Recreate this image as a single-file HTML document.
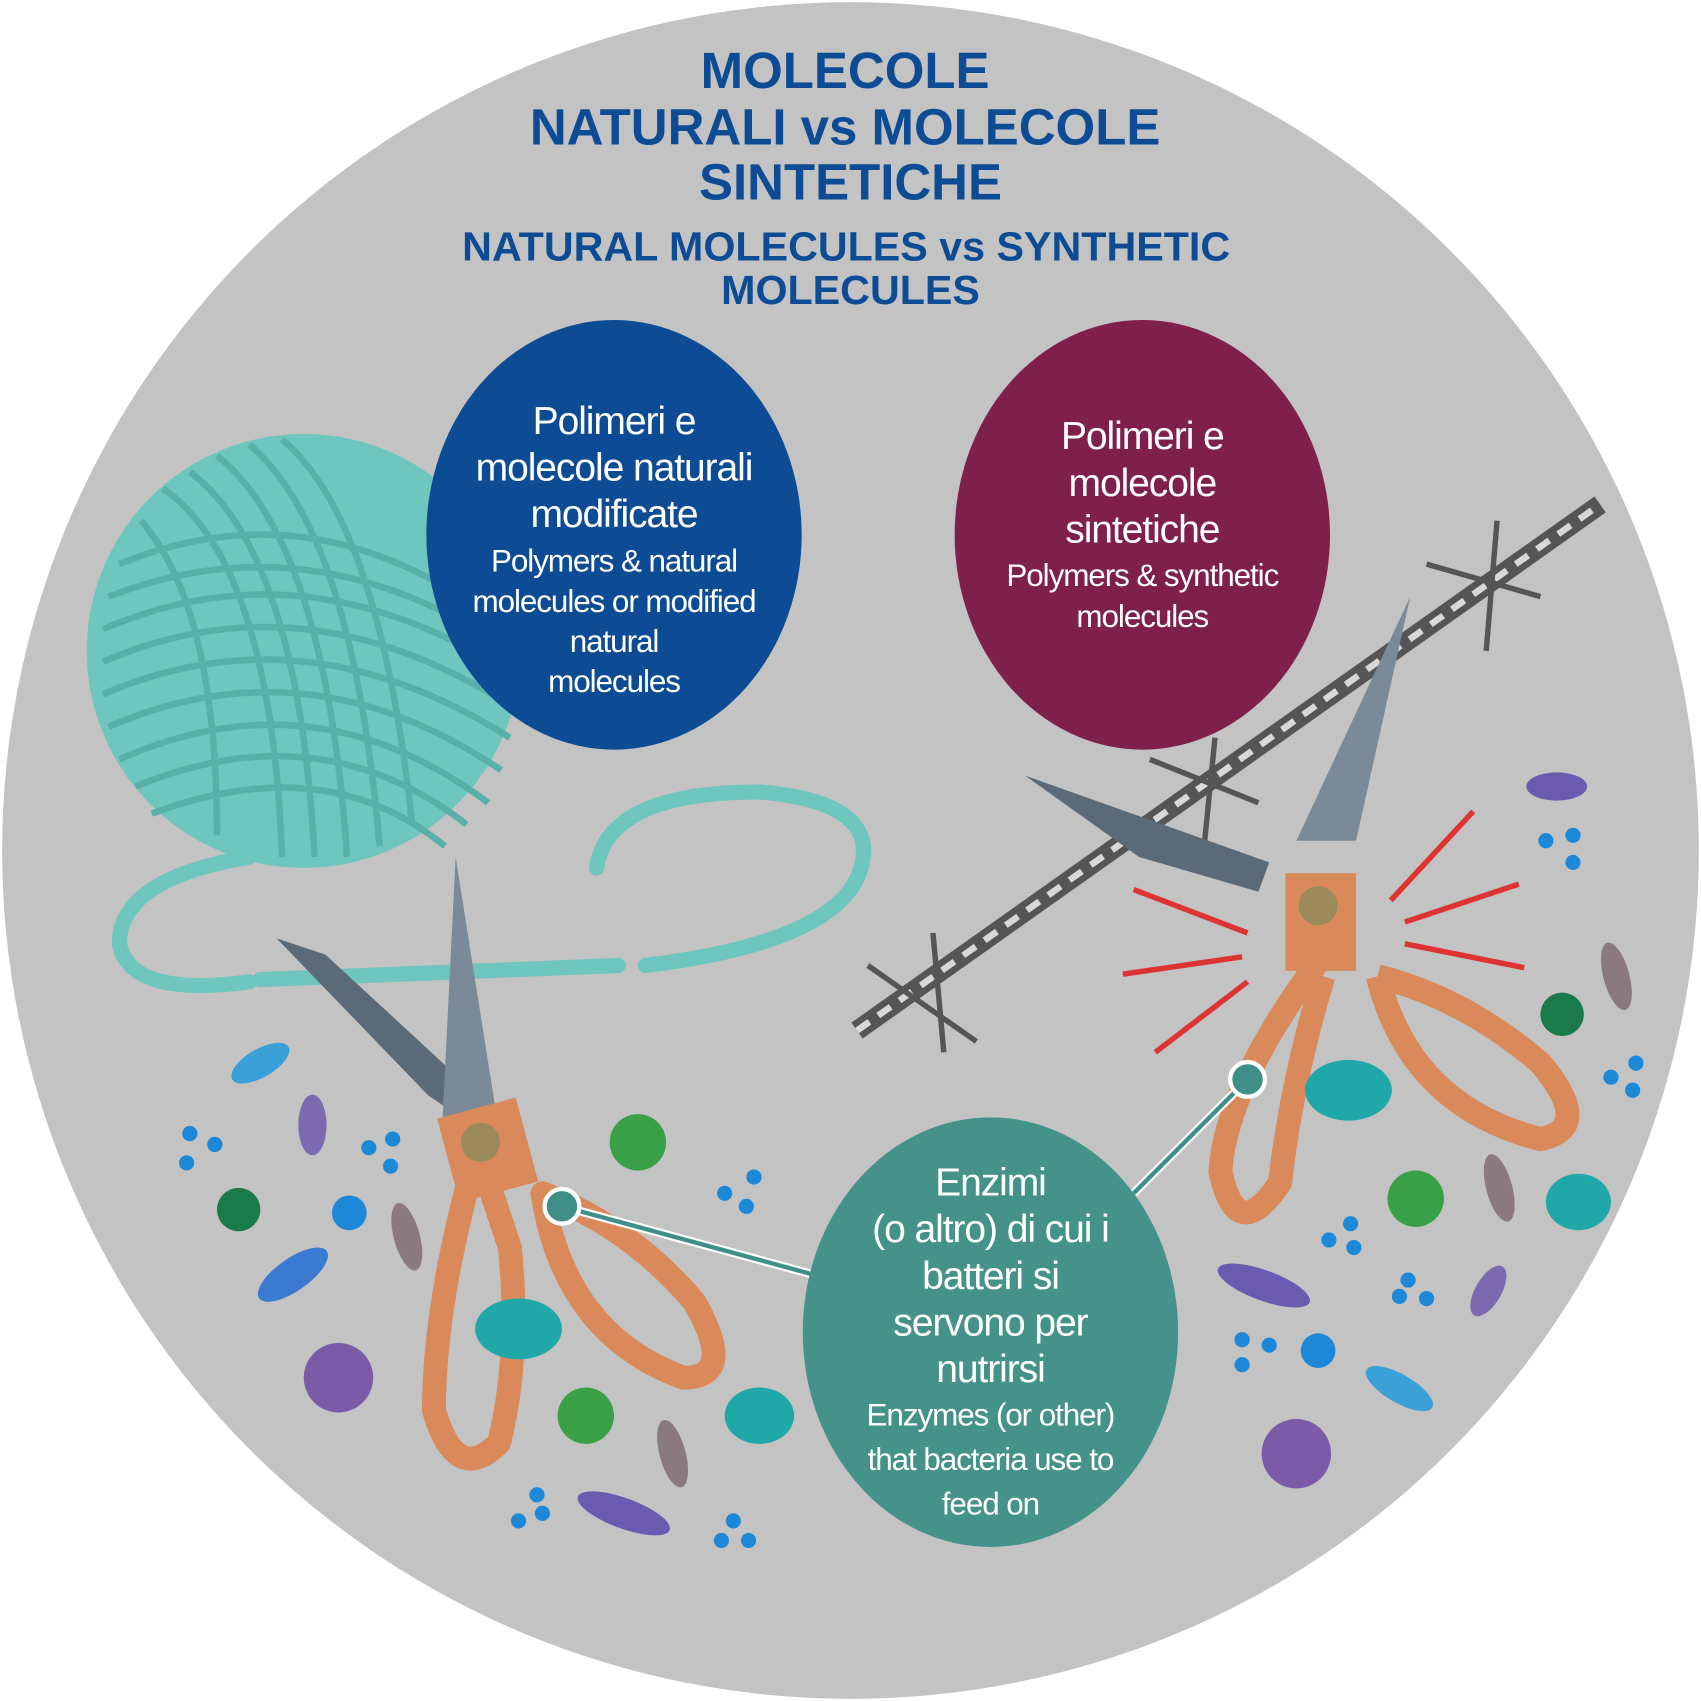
<!DOCTYPE html>
<html><head><meta charset="utf-8"><style>html,body{margin:0;padding:0;background:#fff}svg{display:block}</style></head><body>
<svg width="1701" height="1701" viewBox="0 0 1568 1568" xmlns="http://www.w3.org/2000/svg" font-family="Liberation Sans, sans-serif">
<circle cx="784" cy="784" r="782" fill="#c3c3c3"/>
<!-- yarn ball -->
<circle cx="280" cy="600" r="200" fill="#6ec6be"/>
<g fill="none" stroke="#58b0a8" stroke-width="6">
<path d="M110 520 Q280 450 440 560"/><path d="M95 580 Q280 500 470 620"/><path d="M95 640 Q280 560 470 680"/><path d="M110 700 Q290 620 450 740"/><path d="M140 750 Q300 690 410 780"/>
<path d="M100 550 Q280 480 455 590"/><path d="M95 610 Q280 530 470 650"/><path d="M100 670 Q285 590 462 710"/><path d="M125 725 Q295 655 430 760"/>
<path d="M150 450 Q250 520 260 790"/><path d="M200 420 Q300 500 320 790"/><path d="M260 405 Q350 480 380 760"/><path d="M130 480 Q200 560 200 770"/><path d="M175 435 Q275 510 290 790"/><path d="M230 410 Q325 490 350 780"/>
</g>
<g fill="none" stroke="#6ec6be" stroke-width="14" stroke-linecap="round">
<path d="M230 790 Q110 810 110 870 Q120 920 230 905"/>
<path d="M240 903 L570 890"/><path d="M595 890 Q760 870 790 810 Q820 740 700 730 Q560 730 550 800"/>
</g>
<!-- scissors left -->
<polygon points="255,865 420,1000 440,1040 395,1010 " fill="#5b6a78"/>
<polygon points="255,865 300,880 430,1000 410,1020" fill="#5b6a78"/>
<polygon points="420,790 458,1030 408,1030" fill="#7a8a98"/>
<g fill="none" stroke="#d9895a" stroke-width="22" stroke-linejoin="round">
<path d="M440 1060 Q400 1200 400 1300 Q420 1370 460 1330 Q480 1250 470 1150 Z"/>
<path d="M500 1100 Q520 1230 630 1270 Q680 1270 640 1200 Q580 1130 500 1100 Z"/>
</g>
<rect x="412" y="1020" width="75" height="80" fill="#d9895a" transform="rotate(-15 450 1060)"/>
<circle cx="443" cy="1053" r="18" fill="#9c8a5a"/>
<!-- barbed wire -->
<path d="M790 950 L1475 465" stroke="#555" stroke-width="18"/>
<path d="M790 950 L1475 465" stroke="#d8d8d8" stroke-width="6" stroke-dasharray="14 10"/>
<g stroke="#555" stroke-width="5"><path d="M800 890 L900 960"/><path d="M860 860 L870 970"/><path d="M1060 700 L1160 740"/><path d="M1120 680 L1110 780"/><path d="M1315 520 L1420 550"/><path d="M1380 480 L1370 600"/></g>
<!-- scissors right -->
<polygon points="945,715 1170,795 1160,822 1050,790" fill="#5b6a78"/>
<polygon points="1300,550 1195,775 1250,775" fill="#7a8a98"/>
<rect x="1185" y="805" width="65" height="90" fill="#d9895a"/>
<circle cx="1215" cy="835" r="18" fill="#9c8a5a"/>
<g fill="none" stroke="#d9895a" stroke-width="22"><path d="M1220 880 Q1130 1000 1125 1080 Q1140 1150 1180 1090 Q1190 1000 1220 900"/><path d="M1270 900 Q1300 1020 1420 1050 Q1470 1040 1420 980 Q1350 920 1270 900"/></g>
<g stroke="#d33" stroke-width="5"><path d="M1045 820 L1150 860"/><path d="M1035 898 L1145 882"/><path d="M1065 970 L1150 905"/><path d="M1282 830 L1358 748"/><path d="M1295 850 L1400 815"/><path d="M1295 870 L1405 892"/></g>
<!-- microbes -->
<g>
<circle cx="588" cy="1053" r="26" fill="#3aa047"/><circle cx="540" cy="1305" r="26" fill="#3aa047"/><circle cx="1305" cy="1105" r="26" fill="#3aa047"/>
<circle cx="220" cy="1115" r="20" fill="#1a7a4a"/><circle cx="1440" cy="935" r="20" fill="#1a7a4a"/>
<circle cx="312" cy="1270" r="32" fill="#7b5aa8"/><circle cx="1195" cy="1340" r="32" fill="#7b5aa8"/>
<ellipse cx="478" cy="1225" rx="40" ry="28" fill="#20a8a8"/><ellipse cx="700" cy="1305" rx="32" ry="26" fill="#20a8a8"/><ellipse cx="1243" cy="1005" rx="40" ry="28" fill="#20a8a8"/><ellipse cx="1455" cy="1108" rx="30" ry="26" fill="#20a8a8"/>
<ellipse cx="240" cy="980" rx="30" ry="13" fill="#3aa0d8" transform="rotate(-30 240 980)"/><ellipse cx="270" cy="1175" rx="38" ry="15" fill="#3a7ad0" transform="rotate(-35 270 1175)"/><ellipse cx="1290" cy="1280" rx="35" ry="13" fill="#3aa0d8" transform="rotate(30 1290 1280)"/>
<ellipse cx="288" cy="1037" rx="13" ry="28" fill="#7b6ab0"/><ellipse cx="375" cy="1140" rx="12" ry="32" fill="#8a7a80" transform="rotate(-15 375 1140)"/><ellipse cx="620" cy="1340" rx="12" ry="32" fill="#8a7a80" transform="rotate(-15 620 1340)"/><ellipse cx="575" cy="1395" rx="45" ry="14" fill="#6a5ab0" transform="rotate(20 575 1395)"/><ellipse cx="1165" cy="1185" rx="45" ry="14" fill="#6a5ab0" transform="rotate(20 1165 1185)"/><ellipse cx="1435" cy="725" rx="28" ry="13" fill="#6a5ab0"/><ellipse cx="1490" cy="900" rx="12" ry="32" fill="#8a7a80" transform="rotate(-15 1490 900)"/><ellipse cx="1382" cy="1095" rx="12" ry="32" fill="#8a7a80" transform="rotate(-15 1382 1095)"/><ellipse cx="1372" cy="1190" rx="12" ry="26" fill="#7b6ab0" transform="rotate(30 1372 1190)"/>
<g fill="#1e88d8"><circle cx="175" cy="1045" r="7"/><circle cx="198" cy="1055" r="7"/><circle cx="172" cy="1072" r="7"/><circle cx="340" cy="1058" r="7"/><circle cx="362" cy="1050" r="7"/><circle cx="360" cy="1075" r="7"/><circle cx="668" cy="1100" r="7"/><circle cx="688" cy="1112" r="7"/><circle cx="695" cy="1085" r="7"/><circle cx="478" cy="1402" r="7"/><circle cx="500" cy="1395" r="7"/><circle cx="495" cy="1378" r="7"/><circle cx="665" cy="1420" r="7"/><circle cx="690" cy="1420" r="7"/><circle cx="676" cy="1402" r="7"/><circle cx="1425" cy="775" r="7"/><circle cx="1450" cy="770" r="7"/><circle cx="1450" cy="795" r="7"/><circle cx="1485" cy="993" r="7"/><circle cx="1505" cy="1005" r="7"/><circle cx="1508" cy="980" r="7"/><circle cx="1225" cy="1143" r="7"/><circle cx="1245" cy="1128" r="7"/><circle cx="1248" cy="1150" r="7"/><circle cx="1290" cy="1195" r="7"/><circle cx="1315" cy="1197" r="7"/><circle cx="1298" cy="1180" r="7"/><circle cx="1145" cy="1235" r="7"/><circle cx="1170" cy="1240" r="7"/><circle cx="1145" cy="1258" r="7"/><circle cx="322" cy="1118" r="16"/><circle cx="1215" cy="1245" r="16"/></g>
</g>
<!-- connectors -->
<g stroke="#fff" stroke-width="8"><path d="M518 1112 L750 1175"/><path d="M1150 995 L1045 1100"/></g>
<g stroke="#3f8f88" stroke-width="4"><path d="M518 1112 L750 1175"/><path d="M1150 995 L1045 1100"/></g>
<circle cx="518" cy="1112" r="16" fill="#3f8f88" stroke="#fff" stroke-width="4"/>
<circle cx="1150" cy="995" r="16" fill="#3f8f88" stroke="#fff" stroke-width="4"/>
<!-- bubbles -->
<ellipse cx="566" cy="493" rx="173" ry="198" fill="#0d4c94"/>
<ellipse cx="1053" cy="493" rx="173" ry="198" fill="#7f1f4c"/>
<ellipse cx="913" cy="1228" rx="173" ry="198" fill="#45928a"/>
<g fill="#fff" text-anchor="middle" letter-spacing="-1">
<g font-size="36"><text x="566" y="400">Polimeri e</text><text x="566" y="443">molecole naturali</text><text x="566" y="486">modificate</text></g>
<g font-size="29"><text x="566" y="527">Polymers &amp; natural</text><text x="566" y="564">molecules or modified</text><text x="566" y="601">natural</text><text x="566" y="638">molecules</text></g>
<g font-size="36"><text x="1053" y="414">Polimeri e</text><text x="1053" y="457">molecole</text><text x="1053" y="500">sintetiche</text></g>
<g font-size="29"><text x="1053" y="540">Polymers &amp; synthetic</text><text x="1053" y="578">molecules</text></g>
<g font-size="36"><text x="913" y="1102">Enzimi</text><text x="913" y="1145">(o altro) di cui i</text><text x="913" y="1188">batteri si</text><text x="913" y="1231">servono per</text><text x="913" y="1274">nutrirsi</text></g>
<g font-size="29"><text x="913" y="1314">Enzymes (or other)</text><text x="913" y="1355">that bacteria use to</text><text x="913" y="1396">feed on</text></g>
</g>
<g fill="#0d4c94" font-weight="bold" text-anchor="middle">
<g font-size="47"><text x="779" y="81">MOLECOLE</text><text x="779" y="133">NATURALI vs MOLECOLE</text><text x="784" y="184">SINTETICHE</text></g>
<g font-size="38"><text x="780" y="240">NATURAL MOLECULES vs SYNTHETIC</text><text x="784" y="280">MOLECULES</text></g>
</g>
</svg>
</body></html>
